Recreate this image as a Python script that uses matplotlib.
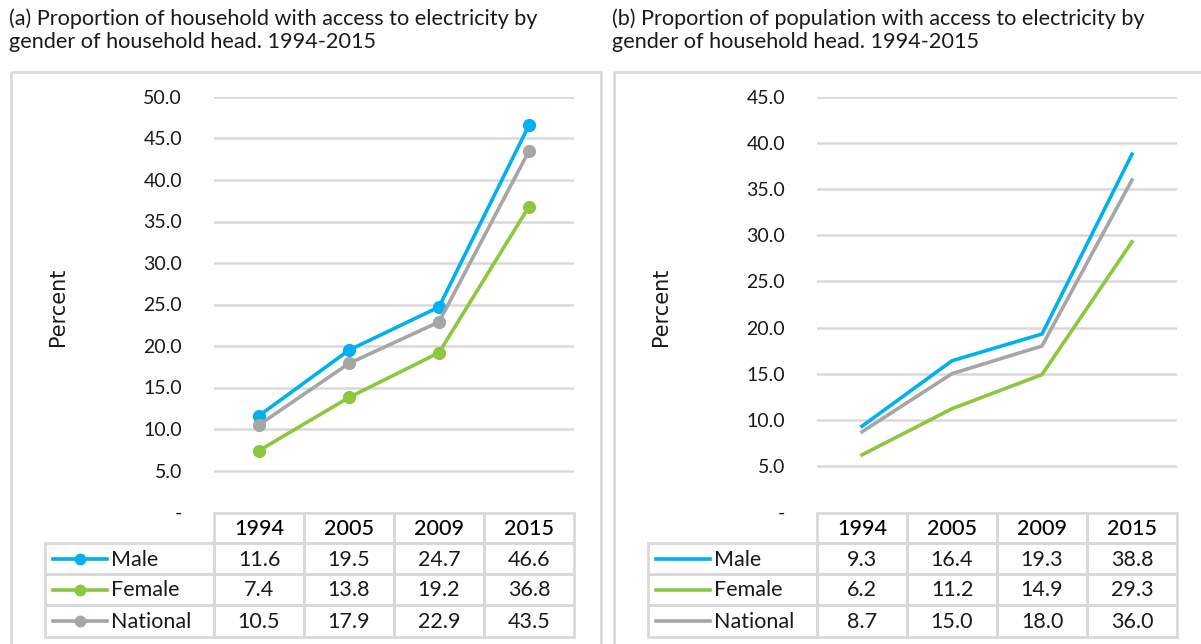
import matplotlib.pyplot as plt
import matplotlib.patches as mpatches
from matplotlib.lines import Line2D

plt.rcParams['font.family'] = ['Lato', 'DejaVu Sans']

years = ['1994', '2005', '2009', '2015']
series_names = ['Male', 'Female', 'National']

# (a) households
hh_male = [11.6, 19.5, 24.7, 46.6]
hh_female = [7.4, 13.8, 19.2, 36.8]
hh_national = [10.5, 17.9, 22.9, 43.5]

# (b) population
pop_male = [9.3, 16.4, 19.3, 38.8]
pop_female = [6.2, 11.2, 14.9, 29.3]
pop_national = [8.7, 15.0, 18.0, 36.0]

title_a = '(a) Proportion of household with access to electricity by\ngender of household head. 1994-2015'
title_b = '(b) Proportion of population with access to electricity by\ngender of household head. 1994-2015'

colors = ['#00b0f0', '#8dc63f', '#a6a6a6']
grid_col = '#d9d9d9'
txt_col = '#1a1a1a'

W, H = 1201, 644
fig = plt.figure(figsize=(W / 100, H / 100), dpi=100)

# overlay in pixel coords for boxes and tables
ov = fig.add_axes([0, 0, 1, 1])
ov.set_xlim(0, W)
ov.set_ylim(H, 0)
ov.axis('off')


def px_axes(x0, x1, y0, y1):
    return fig.add_axes([x0 / W, 1 - y1 / H, (x1 - x0) / W, (y1 - y0) / H])


def draw_panel(x_off, title, data, ymax, markers):
    # title and frame
    ov.text(x_off + 9, 8, title, fontsize=15.6, va='top', ha='left',
            linespacing=1.2, color=txt_col)
    ov.add_patch(mpatches.Rectangle((x_off + 11, 72), 590, 600, fill=False,
                                    edgecolor=grid_col, lw=2))

    ax_x0, ax_x1 = x_off + 214, x_off + 574
    ax = px_axes(ax_x0, ax_x1, 97, 512)
    ax.set_xlim(-0.5, 3.5)
    ax.set_ylim(0, ymax)
    ticks = [v * 5.0 for v in range(0, int(ymax / 5) + 1)]
    ax.set_yticks(ticks)
    ax.set_yticklabels(['-'] + ['%.1f' % t for t in ticks[1:]], fontsize=14, color=txt_col)
    ax.set_xticks([])
    ax.tick_params(axis='y', length=0, pad=23)
    for s in ax.spines.values():
        s.set_visible(False)
    for t in ticks[1:]:
        ax.axhline(t, color=grid_col, lw=1.8, zorder=0)
    ax.patch.set_alpha(0)
    ov.text(x_off + 58, 307, 'Percent', rotation=90, fontsize=15, ha='center',
            va='center', family=['DejaVu Sans'], color=txt_col)

    xs = range(len(years))
    for vals, c in zip(data, colors):
        if markers:
            ax.plot(xs, vals, color=c, lw=2.6, marker='o', ms=8.5, zorder=3)
        else:
            ax.plot(xs, vals, color=c, lw=2.6, zorder=3)

    # table
    col_w = (ax_x1 - ax_x0) / len(years)
    row_y = [513, 543, 574, 605, 637]
    lab_x0 = x_off + 45
    # header cells
    for i, yr in enumerate(years):
        cx = ax_x0 + i * col_w
        ov.add_patch(mpatches.Rectangle((cx, row_y[0]), col_w, row_y[1] - row_y[0],
                                        fill=False, edgecolor=grid_col, lw=2))
        ov.text(cx + col_w / 2, (row_y[0] + row_y[1]) / 2 + 1, yr, fontsize=15.5,
                ha='center', va='center', color='black', fontweight='medium')
    for r, (name, vals, c) in enumerate(zip(series_names, data, colors)):
        y0, y1 = row_y[r + 1], row_y[r + 2]
        yc = (y0 + y1) / 2 + 1
        ov.add_patch(mpatches.Rectangle((lab_x0, y0), ax_x0 - lab_x0, y1 - y0,
                                        fill=False, edgecolor=grid_col, lw=2))
        ov.add_line(Line2D([lab_x0 + 8, lab_x0 + 62], [yc - 1, yc - 1], color=c, lw=2.6))
        if markers:
            ov.plot([lab_x0 + 35], [yc - 1], marker='o', ms=7.5, color=c)
        ov.text(lab_x0 + 66, yc, name, fontsize=15.5, ha='left', va='center', color=txt_col)
        for i, v in enumerate(vals):
            cx = ax_x0 + i * col_w
            ov.add_patch(mpatches.Rectangle((cx, y0), col_w, y1 - y0,
                                            fill=False, edgecolor=grid_col, lw=2))
            ov.text(cx + col_w / 2, yc, '%.1f' % v, fontsize=15.5, ha='center',
                    va='center', color=txt_col)


draw_panel(0, title_a, [hh_male, hh_female, hh_national], 50, True)
draw_panel(603, title_b, [pop_male, pop_female, pop_national], 45, False)

fig.savefig('out.png', dpi=100)
